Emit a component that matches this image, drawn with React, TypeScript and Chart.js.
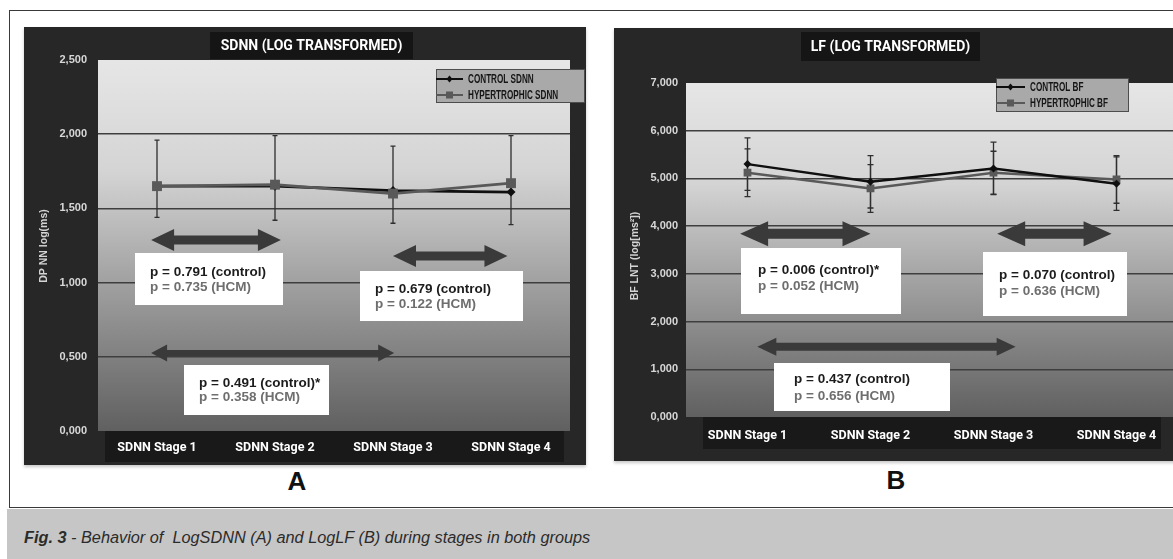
import React, { useEffect, useRef } from "react";
import { Chart, registerables } from "chart.js";

Chart.register(...registerables);

// ---------------- data ----------------
const stages = ["SDNN Stage 1", "SDNN Stage 2", "SDNN Stage 3", "SDNN Stage 4"];

const sdnnControl = [1.65, 1.65, 1.62, 1.61];
const sdnnHcm = [1.65, 1.66, 1.6, 1.67];
const sdnnErrHigh = [1.96, 1.99, 1.92, 1.99];
const sdnnErrLow = [1.44, 1.42, 1.4, 1.39];

const lfControl = [5.3, 4.93, 5.21, 4.89];
const lfHcm = [5.12, 4.79, 5.12, 4.98];
const lfControlErr = [0.55, 0.55, 0.55, 0.56];
const lfHcmErr = [0.5, 0.5, 0.45, 0.5];

const sdnnAxis = { min: 0, max: 2.5, step: 0.5 };
const lfAxis = { min: 0, max: 7, step: 1 };

const sdnnLegend = ["CONTROL SDNN", "HYPERTROPHIC SDNN"];
const lfLegend = ["CONTROL BF", "HYPERTROPHIC BF"];

const sdnnPValues = [
  { control: "0.791", star: "", hcm: "0.735" },
  { control: "0.679", star: "", hcm: "0.122" },
  { control: "0.491", star: "*", hcm: "0.358" },
];
const lfPValues = [
  { control: "0.006", star: "*", hcm: "0.052" },
  { control: "0.070", star: "", hcm: "0.636" },
  { control: "0.437", star: "", hcm: "0.656" },
];

// comparison arrows: from / to category index, at axis value
const sdnnArrows = [
  { from: -0.05, to: 1.05, at: 1.287, kind: "big" },
  { from: 2.0, to: 2.97, at: 1.18, kind: "big" },
  { from: -0.05, to: 2.01, at: 0.526, kind: "small" },
];
const lfArrows = [
  { from: -0.06, to: 1.0, at: 3.84, kind: "big" },
  { from: 2.03, to: 2.96, at: 3.84, kind: "big" },
  { from: 0.08, to: 2.18, at: 1.47, kind: "small" },
];

// ---------------- helpers ----------------
const fmt = (v: number) => Number(v).toFixed(3).replace(".", ",");
const LIB = '"Liberation Sans", Arial, sans-serif';

function drawArrow(ctx: CanvasRenderingContext2D, x1: number, x2: number, y: number, st: any) {
  const t = st.shaft / 2;
  const h = st.head;
  const L = st.headLen;
  ctx.beginPath();
  ctx.moveTo(x1, y);
  ctx.lineTo(x1 + L, y - h);
  ctx.lineTo(x1 + L, y - t);
  ctx.lineTo(x2 - L, y - t);
  ctx.lineTo(x2 - L, y - h);
  ctx.lineTo(x2, y);
  ctx.lineTo(x2 - L, y + h);
  ctx.lineTo(x2 - L, y + t);
  ctx.lineTo(x1 + L, y + t);
  ctx.lineTo(x1 + L, y + h);
  ctx.closePath();
  ctx.fillStyle = "#3a3a3a";
  ctx.fill();
}

function condensedText(ctx: CanvasRenderingContext2D, text: string, x: number, y: number, sx: number) {
  ctx.save();
  ctx.translate(x, y);
  ctx.scale(sx, 1);
  ctx.fillText(text, 0, 0);
  ctx.restore();
}

function makePlugin(p: any) {
  return {
    id: "fig",
    beforeDraw(chart: any) {
      const { ctx, width, height, chartArea: ca } = chart;
      ctx.save();
      ctx.fillStyle = "#272727";
      ctx.fillRect(0, 0, width, height);
      // title box
      const tb = p.titleBox;
      ctx.fillStyle = "#151515";
      ctx.fillRect(tb.x, tb.y, tb.w, tb.h);
      ctx.fillStyle = "#ffffff";
      ctx.font = "700 14px Roboto, sans-serif";
      ctx.textAlign = "center";
      ctx.textBaseline = "middle";
      ctx.fillText(p.title, tb.x + tb.w / 2, tb.y + tb.h / 2 + 0.5);
      // plot area gradient
      const g = ctx.createLinearGradient(0, ca.top, 0, ca.bottom);
      g.addColorStop(0, "#e6e6e6");
      g.addColorStop(0.3, "#d4d4d4");
      g.addColorStop(0.55, "#a9a9a9");
      g.addColorStop(0.8, "#808080");
      g.addColorStop(1, "#606060");
      ctx.fillStyle = g;
      ctx.fillRect(ca.left, ca.top, ca.right - ca.left, ca.bottom - ca.top);
      // x label band
      ctx.fillStyle = "#191919";
      ctx.fillRect(p.band.x, ca.bottom, p.band.w, p.band.h);
      ctx.restore();
    },
    beforeDatasetsDraw(chart: any) {
      const { ctx } = chart;
      const xs = chart.scales.x;
      const ys = chart.scales.y;
      ctx.save();
      ctx.strokeStyle = "#2e2e2e";
      ctx.lineWidth = 1.3;
      for (const e of p.errors) {
        for (let i = 0; i < e.high.length; i++) {
          const px = xs.getPixelForValue(i);
          const yt = ys.getPixelForValue(e.high[i]);
          const yb = ys.getPixelForValue(e.low[i]);
          ctx.beginPath();
          ctx.moveTo(px, yt);
          ctx.lineTo(px, yb);
          ctx.moveTo(px - p.cap, yt);
          ctx.lineTo(px + p.cap, yt);
          ctx.moveTo(px - p.cap, yb);
          ctx.lineTo(px + p.cap, yb);
          ctx.stroke();
        }
      }
      ctx.restore();
    },
    afterDraw(chart: any) {
      const { ctx } = chart;
      const xs = chart.scales.x;
      const ys = chart.scales.y;
      ctx.save();
      // arrows
      for (const a of p.arrows) {
        const x1 = xs.getPixelForValue(a.from);
        const x2 = xs.getPixelForValue(a.to);
        const y = ys.getPixelForValue(a.at);
        drawArrow(ctx, x1, x2, y, p.arrowStyles[a.kind]);
      }
      // p-value boxes
      p.pvalues.forEach((pv: any, i: number) => {
        const b = p.boxes[i];
        ctx.fillStyle = "#ffffff";
        ctx.fillRect(b.x, b.y, b.w, b.h);
        ctx.textAlign = "left";
        ctx.textBaseline = "middle";
        ctx.font = `bold ${p.pSize}px ${LIB}`;
        ctx.fillStyle = "#1c1c1c";
        ctx.fillText(`p = ${pv.control} (control)${pv.star}`, b.tx, b.ty1);
        ctx.fillStyle = "#6e6e6e";
        ctx.fillText(`p = ${pv.hcm} (HCM)`, b.tx, b.ty2);
      });
      // legend
      const lg = p.legendBox;
      ctx.fillStyle = "#a9a9a9";
      ctx.fillRect(lg.x, lg.y, lg.w, lg.h);
      ctx.strokeStyle = "#4d4d4d";
      ctx.lineWidth = 1;
      ctx.strokeRect(lg.x + 0.5, lg.y + 0.5, lg.w - 1, lg.h - 1);
      chart.data.datasets.forEach((ds: any, i: number) => {
        const ry = lg.rows[i];
        ctx.strokeStyle = ds.borderColor;
        ctx.lineWidth = 2;
        ctx.beginPath();
        ctx.moveTo(lg.x, ry);
        ctx.lineTo(lg.x + lg.lineW, ry);
        ctx.stroke();
        const mx = lg.x + lg.lineW / 2;
        ctx.fillStyle = ds.borderColor;
        if (ds.pointStyle === "rect") {
          ctx.fillRect(mx - 3.5, ry - 3.5, 7, 7);
        } else {
          ctx.beginPath();
          ctx.moveTo(mx, ry - 3.5);
          ctx.lineTo(mx + 3, ry);
          ctx.lineTo(mx, ry + 3.5);
          ctx.lineTo(mx - 3, ry);
          ctx.closePath();
          ctx.fill();
        }
        ctx.fillStyle = "#151515";
        ctx.font = `bold 12px ${LIB}`;
        ctx.textAlign = "left";
        ctx.textBaseline = "middle";
        condensedText(ctx, ds.label, lg.x + lg.lineW + 5, ry + 0.5, 0.68);
      });
      // y axis title
      ctx.save();
      ctx.translate(p.yTitle.x, p.yTitle.y);
      ctx.rotate(-Math.PI / 2);
      ctx.fillStyle = "#d4d4d4";
      ctx.font = `bold 10.5px ${LIB}`;
      ctx.textAlign = "center";
      ctx.textBaseline = "middle";
      ctx.fillText(p.yTitle.text, 0, 0);
      ctx.restore();
      ctx.restore();
    },
  };
}

function buildConfig(p: any) {
  const { min, max, step } = p.axis;
  return {
    type: "line" as const,
    data: {
      labels: stages,
      datasets: [
        {
          label: p.legend[0],
          data: p.control,
          borderColor: "#0f0f0f",
          backgroundColor: "#0f0f0f",
          borderWidth: p.lineW,
          pointStyle: "rectRot",
          pointRadius: p.ctrlR,
          pointBorderWidth: 0,
          tension: 0,
          order: p.controlOrder,
        },
        {
          label: p.legend[1],
          data: p.hcm,
          borderColor: "#595959",
          backgroundColor: "#595959",
          borderWidth: p.lineW,
          pointStyle: "rect",
          pointRadius: p.hcmR,
          pointBorderWidth: 0,
          tension: 0,
          order: p.hcmOrder,
        },
      ],
    },
    options: {
      responsive: false,
      animation: false as const,
      events: [],
      layout: { padding: p.padding },
      plugins: { legend: { display: false }, tooltip: { enabled: false } },
      scales: {
        x: {
          offset: true,
          grid: { display: false, drawTicks: false },
          border: { display: false },
          ticks: {
            color: "#ffffff",
            font: { family: "Roboto, sans-serif", size: 12.5, weight: "bold" },
            padding: p.xPad,
            maxRotation: 0,
            autoSkip: false,
          },
          afterFit: (s: any) => {
            s.height = p.xH;
          },
        },
        y: {
          min,
          max,
          ticks: {
            stepSize: step,
            callback: (v: any) => fmt(v),
            color: "#d8d8d8",
            font: { family: '"Liberation Sans", Arial, sans-serif', size: 11, weight: "bold" },
            padding: p.yPad,
          },
          grid: {
            color: (c: any) =>
              c.tick && (c.tick.value === min || c.tick.value === max) ? "rgba(0,0,0,0)" : "#3e3e3e",
            lineWidth: 1.5,
            drawTicks: false,
          },
          border: { display: false },
          afterFit: (s: any) => {
            s.width = p.yW;
          },
        },
      },
    },
    plugins: [makePlugin(p)],
  };
}

const leftParams = {
  control: sdnnControl,
  hcm: sdnnHcm,
  legend: sdnnLegend,
  axis: sdnnAxis,
  errors: [{ high: sdnnErrHigh, low: sdnnErrLow }],
  arrows: sdnnArrows,
  pvalues: sdnnPValues,
  title: "SDNN (LOG TRANSFORMED)",
  lineW: 2.8,
  ctrlR: 4.5,
  hcmR: 7,
  controlOrder: 2,
  hcmOrder: 1,
  padding: { left: 0, top: 33, right: 16, bottom: 0 },
  xH: 34,
  yW: 74,
  xPad: 9,
  yPad: 11,
  cap: 2.5,
  pSize: 13.5,
  titleBox: { x: 186, y: 5, w: 203, h: 27 },
  band: { x: 81, w: 459, h: 31 },
  legendBox: { x: 412, y: 42, w: 149, h: 34, rows: [52, 68], lineW: 27 },
  yTitle: { x: 20, y: 219, text: "DP NN log(ms)" },
  arrowStyles: {
    big: { shaft: 9, head: 11, headLen: 23 },
    small: { shaft: 6, head: 8.5, headLen: 16 },
  },
  boxes: [
    { x: 111, y: 226, w: 148, h: 52, tx: 126, ty1: 245, ty2: 260 },
    { x: 336, y: 244, w: 163, h: 50, tx: 351, ty1: 262, ty2: 277 },
    { x: 160, y: 338, w: 145, h: 50, tx: 175, ty1: 356, ty2: 370 },
  ],
};

const rightParams = {
  control: lfControl,
  hcm: lfHcm,
  legend: lfLegend,
  axis: lfAxis,
  errors: [
    { high: lfControl.map((v, i) => v + lfControlErr[i]), low: lfControl.map((v, i) => v - lfControlErr[i]) },
    { high: lfHcm.map((v, i) => v + lfHcmErr[i]), low: lfHcm.map((v, i) => v - lfHcmErr[i]) },
  ],
  arrows: lfArrows,
  pvalues: lfPValues,
  title: "LF (LOG TRANSFORMED)",
  lineW: 2.5,
  ctrlR: 4,
  hcmR: 5.5,
  controlOrder: 1,
  hcmOrder: 2,
  padding: { left: 0, top: 55, right: 36, bottom: 0 },
  xH: 44,
  yW: 72,
  xPad: 11,
  yPad: 8,
  cap: 3,
  pSize: 13.5,
  titleBox: { x: 187, y: 4, w: 179, h: 29 },
  band: { x: 89, w: 458, h: 32 },
  legendBox: { x: 382, y: 50, w: 133, h: 34, rows: [59, 75], lineW: 29 },
  yTitle: { x: 21, y: 228, text: "BF LNT (log[ms²])" },
  arrowStyles: {
    big: { shaft: 10, head: 12.5, headLen: 28 },
    small: { shaft: 8, head: 9, headLen: 19 },
  },
  boxes: [
    { x: 127, y: 220, w: 160, h: 66, tx: 144, ty1: 242, ty2: 258 },
    { x: 369, y: 224, w: 144, h: 64, tx: 385, ty1: 247, ty2: 263 },
    { x: 160, y: 335, w: 176, h: 48, tx: 180, ty1: 351, ty2: 368 },
  ],
};

function Panel({ params, left, top, width, height }: any) {
  const ref = useRef<HTMLCanvasElement>(null);
  useEffect(() => {
    const chart = new Chart(ref.current as HTMLCanvasElement, buildConfig(params) as any);
    return () => chart.destroy();
  }, []);
  return (
    <div
      style={{
        position: "absolute",
        left,
        top,
        width,
        height,
        boxShadow: "0 2px 3px rgba(0,0,0,0.22)",
      }}
    >
      <canvas ref={ref} width={width} height={height} style={{ display: "block" }} />
    </div>
  );
}

export default function App() {
  return (
    <div
      style={{
        position: "fixed",
        left: 0,
        top: 0,
        width: 1173,
        height: 559,
        overflow: "hidden",
        background: "#ffffff",
        fontFamily: LIB,
      }}
    >
      <div
        style={{
          position: "absolute",
          left: 9,
          top: 10,
          width: 1200,
          height: 498,
          border: "1.5px solid #3a3a3a",
          boxSizing: "border-box",
        }}
      />
      <Panel params={leftParams} left={24} top={27} width={562} height={438} />
      <Panel params={rightParams} left={614} top={28} width={600} height={433} />
      <div
        style={{
          position: "absolute",
          left: 297,
          top: 481,
          transform: "translate(-50%, -50%)",
          font: `bold 26px ${LIB}`,
          color: "#111",
        }}
      >
        A
      </div>
      <div
        style={{
          position: "absolute",
          left: 896,
          top: 480,
          transform: "translate(-50%, -50%)",
          font: `bold 26px ${LIB}`,
          color: "#111",
        }}
      >
        B
      </div>
      <div
        style={{
          position: "absolute",
          left: 7,
          top: 509,
          width: 1170,
          height: 50,
          background: "#c6c6c6",
        }}
      >
        <div
          style={{
            position: "absolute",
            left: 17,
            top: 18,
            whiteSpace: "pre",
            font: `italic 16.3px ${LIB}`,
            lineHeight: "20px",
            color: "#2b2b2b",
          }}
        >
          <b>Fig. 3</b>
          {" - Behavior of  LogSDNN (A) and LogLF (B) during stages in both groups"}
        </div>
      </div>
    </div>
  );
}
